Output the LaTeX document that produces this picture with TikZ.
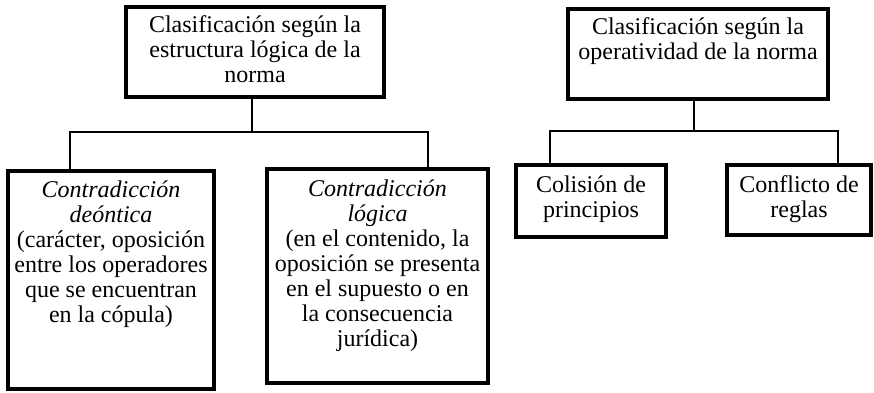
\documentclass[tikz,border=0pt]{standalone}
\usepackage{fontspec}
\setmainfont{Liberation Serif}
\begin{document}
\begin{tikzpicture}[x=1pt,y=-1pt,
  box/.style={draw=black, line width=4.5pt, inner sep=0pt},
  txt/.style={anchor=north, align=center, inner sep=0pt, font=\fontsize{24}{25}\selectfont},
  conn/.style={draw=black, line width=1.6pt}]
\useasboundingbox (0,0) rectangle (874,392);
% boxes
\node[box, minimum width=258pt, minimum height=90pt] (b1) at (255,52) {};
\node[box, minimum width=206pt, minimum height=218pt] (b2) at (111,280) {};
\node[box, minimum width=221pt, minimum height=214pt] (b3) at (377.5,276) {};
\node[box, minimum width=260pt, minimum height=90pt] (b4) at (698,54) {};
\node[box, minimum width=150pt, minimum height=72pt] (b5) at (591,201) {};
\node[box, minimum width=144pt, minimum height=70pt] (b6) at (799,200) {};
% texts
\node[txt] (t1) at (255,14) {\rule{0pt}{18pt}Clasificación según la\\estructura lógica de la\\norma};
\node[txt] (t2) at (111,179) {\rule{0pt}{18pt}\textit{Contradicción}\\\textit{deóntica}\\(carácter, oposición\\entre los operadores\\que se encuentran\\en la cópula)};
\node[txt] (t3) at (377.5,178) {\rule{0pt}{18pt}\textit{Contradicción}\\\textit{lógica}\\(en el contenido, la\\oposición se presenta\\en el supuesto o en\\la consecuencia\\jurídica)};
\node[txt] (t4) at (698,16) {\rule{0pt}{18pt}Clasificación según la\\operatividad de la norma};
\node[txt] (t5) at (591,174) {\rule{0pt}{18pt}Colisión de\\principios};
\node[txt] (t6) at (799,174) {\rule{0pt}{18pt}Conflicto de\\reglas};
% connectors left
\coordinate (vl) at (252,132);
\coordinate (hl) at (70,132);
\coordinate (hr) at (428,132);
\draw[conn] (vl |- b1.south) -- (vl);
\draw[conn] (hl |- b2.north) -- (hl) -- (hr) -- (hr |- b3.north);
% connectors right
\coordinate (vl2) at (694,131);
\coordinate (hl2) at (550,131);
\coordinate (hr2) at (838,131);
\draw[conn] (vl2 |- b4.south) -- (vl2);
\draw[conn] (hl2 |- b5.north) -- (hl2) -- (hr2) -- (hr2 |- b6.north);
\end{tikzpicture}
\end{document}
